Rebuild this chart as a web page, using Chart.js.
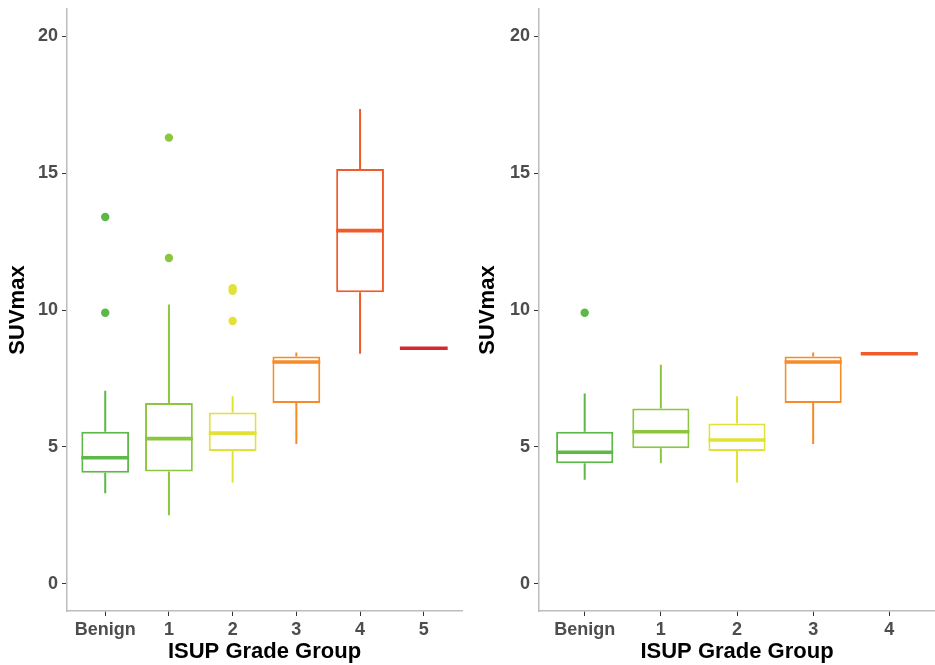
<!DOCTYPE html>
<html>
<head>
<meta charset="utf-8">
<script src="https://cdn.jsdelivr.net/npm/chart.js@4.4.1/dist/chart.umd.min.js"></script>
<style>
  body { margin: 0; background: #fff; }
  canvas { position: absolute; top: 0; }
  #left { left: 0; }
  #right { left: 470px; }
</style>
</head>
<body>
<canvas id="left" width="470" height="665"></canvas>
<canvas id="right" width="465" height="665"></canvas>
<script>
// left panel: all grade groups
const leftCategories = ["Benign", "1", "2", "3", "4", "5"];
const leftLower = [3.3, 2.5, 3.7, 5.1, 8.4, 8.6];
const leftQ1 = [4.05, 4.1, 4.85, 6.6, 10.65, 8.6];
const leftMedian = [4.6, 5.3, 5.5, 8.1, 12.9, 8.6];
const leftQ3 = [5.55, 6.6, 6.25, 8.3, 15.15, 8.6];
const leftUpper = [7.05, 10.2, 6.85, 8.45, 17.35, 8.6];
const leftOutliers = [
  { x: 0, y: 13.4 }, { x: 0, y: 9.9 },
  { x: 1, y: 16.3 }, { x: 1, y: 11.9 },
  { x: 2, y: 10.8 }, { x: 2, y: 10.7 }, { x: 2, y: 9.6 },
];
const leftColors = ["#5cb947", "#8cc63f", "#e2e236", "#f68b28", "#f15a29", "#d7282f"];

// right panel
const rightCategories = ["Benign", "1", "2", "3", "4"];
const rightLower = [3.8, 4.4, 3.7, 5.1, 8.4];
const rightQ1 = [4.4, 4.95, 4.85, 6.6, 8.4];
const rightMedian = [4.8, 5.55, 5.25, 8.1, 8.4];
const rightQ3 = [5.55, 6.4, 5.85, 8.3, 8.4];
const rightUpper = [6.95, 8.0, 6.85, 8.45, 8.4];
const rightOutliers = [{ x: 0, y: 9.9 }];
const rightColors = ["#5cb947", "#8cc63f", "#e2e236", "#f68b28", "#f15a29"];

const yTicks = [0, 5, 10, 15, 20];

const FONT = "'Liberation Sans', Arial, sans-serif";

function makePanel(id, cats, lo, q1, med, q3, hi, outliers, colors, axisWidth, padRight) {
  // whiskers behind the boxes, medians on top
  const boxPlugin = {
    id: "boxParts",
    beforeDatasetsDraw(chart) {
      const { ctx, scales: { x, y } } = chart;
      ctx.save();
      ctx.lineWidth = 2;
      cats.forEach((c, i) => {
        const px = x.getPixelForValue(i);
        ctx.strokeStyle = colors[i];
        ctx.beginPath();
        ctx.moveTo(px, y.getPixelForValue(lo[i]));
        ctx.lineTo(px, y.getPixelForValue(q1[i]));
        ctx.moveTo(px, y.getPixelForValue(q3[i]));
        ctx.lineTo(px, y.getPixelForValue(hi[i]));
        ctx.stroke();
      });
      ctx.restore();
    },
    afterDatasetsDraw(chart) {
      const { ctx, scales: { x, y } } = chart;
      const half = 0.375 * (x.getPixelForValue(1) - x.getPixelForValue(0));
      ctx.save();
      ctx.lineWidth = 3.6;
      cats.forEach((c, i) => {
        const px = x.getPixelForValue(i);
        const py = y.getPixelForValue(med[i]);
        ctx.strokeStyle = colors[i];
        ctx.beginPath();
        ctx.moveTo(px - half, py);
        ctx.lineTo(px + half, py);
        ctx.stroke();
      });
      ctx.restore();
    },
  };

  new Chart(document.getElementById(id), {
    type: "bar",
    data: {
      datasets: [
        {
          type: "bar",
          data: cats.map((c, i) => ({ x: i, y: [q1[i], q3[i]] })),
          backgroundColor: "#fff",
          borderColor: colors,
          borderWidth: 2,
          borderSkipped: false,
          categoryPercentage: 1,
          barPercentage: 0.75,
        },
        {
          type: "scatter",
          data: outliers,
          pointRadius: 4.2,
          pointBorderWidth: 0,
          pointBackgroundColor: outliers.map(p => colors[p.x]),
        },
      ],
    },
    options: {
      responsive: false,
      animation: false,
      events: [],
      layout: { autoPadding: false, padding: { left: 0, right: padRight, top: 9, bottom: 0 } },
      plugins: { legend: { display: false }, tooltip: { enabled: false } },
      scales: {
        x: {
          type: "linear",
          offset: false,
          min: -0.6,
          max: cats.length - 0.4,
          afterBuildTicks: s => { s.ticks = cats.map((c, i) => ({ value: i })); },
          afterFit: s => { s.height = 54; s.paddingLeft = 0; s.paddingRight = 0; },
          ticks: {
            callback: v => cats[v],
            autoSkip: false,
            maxRotation: 0,
            padding: 3,
            color: "#4d4d4d",
            font: { family: FONT, size: 18, weight: "bold" },
          },
          grid: { offset: false, drawOnChartArea: false, drawTicks: true, tickLength: 5, color: "#333" },
          border: { display: true, color: "#bcbcbc", width: 1.5 },
          title: {
            display: true,
            text: "ISUP Grade Group",
            color: "#000",
            padding: { top: 0, bottom: 0 },
            font: { family: FONT, size: 22, weight: "bold" },
          },
        },
        y: {
          min: -1,
          max: 21,
          afterBuildTicks: s => { s.ticks = yTicks.map(v => ({ value: v })); },
          afterFit: s => { s.width = axisWidth; s.paddingTop = 0; s.paddingBottom = 0; },
          ticks: {
            padding: 4,
            color: "#4d4d4d",
            font: { family: FONT, size: 18, weight: "bold" },
          },
          grid: { drawOnChartArea: false, drawTicks: true, tickLength: 5, color: "#333" },
          border: { display: true, color: "#bcbcbc", width: 1.5 },
          title: {
            display: true,
            text: "SUVmax",
            color: "#000",
            padding: { top: 5, bottom: 3 },
            font: { family: FONT, size: 22, weight: "bold" },
          },
        },
      },
    },
    plugins: [boxPlugin],
  });
}

makePanel("left", leftCategories, leftLower, leftQ1, leftMedian, leftQ3, leftUpper,
  leftOutliers, leftColors, 67, 8);
makePanel("right", rightCategories, rightLower, rightQ1, rightMedian, rightQ3, rightUpper,
  rightOutliers, rightColors, 69, 0);
</script>
</body>
</html>
